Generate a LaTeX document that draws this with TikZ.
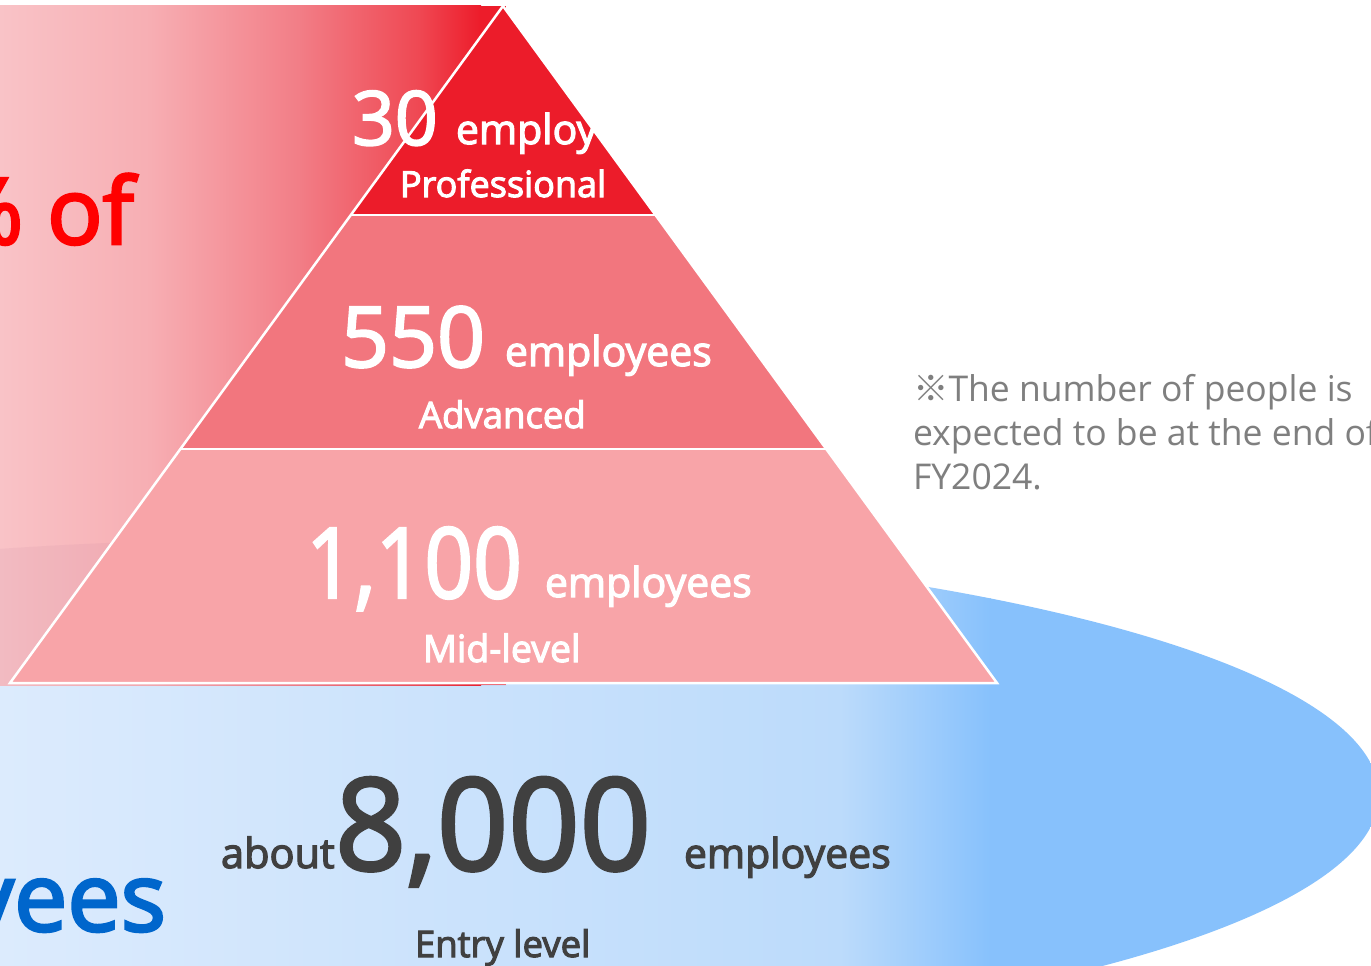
\documentclass[tikz,border=0pt]{standalone}
\usepackage{fontspec}
\setmainfont{Open Sans}
\newfontfamily\sbf[FakeBold=3]{Open Sans}
\newfontfamily\numf[FakeBold=2.5]{Open Sans}
\newfontfamily\cjk{Noto Sans CJK JP}
\definecolor{tierA}{HTML}{EC1C2A}
\definecolor{tierB}{HTML}{F2767E}
\definecolor{tierC}{HTML}{F8A4A8}
\definecolor{rA}{HTML}{F9C3C7}
\definecolor{rB}{HTML}{F7AEB3}
\definecolor{rC}{HTML}{F27D86}
\definecolor{rD}{HTML}{EF4752}
\definecolor{rE}{HTML}{ED1C2A}
\definecolor{bA}{HTML}{DCEBFD}
\definecolor{bB}{HTML}{BCDBFB}
\definecolor{bC}{HTML}{87C1FC}
\definecolor{redtxt}{HTML}{FF0000}
\definecolor{bluetxt}{HTML}{0066CC}
\definecolor{darktxt}{HTML}{404040}
\definecolor{notetxt}{HTML}{7F7F7F}
\definecolor{veil}{RGB}{160,100,140}
\begin{document}
\begin{tikzpicture}[x=1pt,y=-1pt,
  txt/.style={inner sep=0pt, outer sep=0pt, anchor=base west},
  wtxt/.style={txt, text=white},
  dtxt/.style={txt, text=darktxt},
  sep/.style={draw=white, line width=2.5pt, line join=miter}]
\useasboundingbox (0,0) rectangle (1371,966);
\clip (0,0) rectangle (1371,966);
\fill[white] (0,0) rectangle (1371,966);
% blue ellipse
\begin{scope}
  \clip (298,795) ellipse [x radius=1081, y radius=256];
  \fill[bA] (-800,500) rectangle (1,1100);
  \shade[left color=bA, right color=bB] (0,500) rectangle (841,1100);
  \shade[left color=bB, right color=bC] (840,500) rectangle (991,1100);
  \fill[bC] (990,500) rectangle (1400,1100);
\end{scope}
% red gradient panel
\shade[left color=rA, right color=rB] (0,6) rectangle (151,685);
\shade[left color=rB, right color=rC] (150,6) rectangle (301,685);
\shade[left color=rC, right color=rD] (300,6) rectangle (421,685);
\shade[left color=rD, right color=rE] (420,6) rectangle (481,685);
\fill[rE] (480,6) rectangle (506,685);
\begin{scope}
  \clip (0,6) rectangle (506,685);
  \fill[veil, opacity=0.08] (298,795) ellipse [x radius=1081, y radius=256];
\end{scope}
% pyramid
\coordinate (apex) at (503,6);
\coordinate (l1) at (352,215);
\coordinate (r1) at (655,215);
\coordinate (l2) at (181,449);
\coordinate (r2) at (826,449);
\coordinate (l3) at (10,683);
\coordinate (r3) at (997,683);
\fill[tierA] (apex) -- (l1) -- (r1) -- cycle;
\fill[tierB] (l1) -- (r1) -- (r2) -- (l2) -- cycle;
\fill[tierC] (l2) -- (r2) -- (r3) -- (l3) -- cycle;
% texts in the pyramid
\node[wtxt] (n30) at (352,145) {\numf\fontsize{75}{75}\selectfont 30};
\node[wtxt] (e30) at (456,144) {\sbf\fontsize{41}{41}\selectfont employees};
\node[wtxt] (prof) at (400,197) {\sbf\fontsize{36}{36}\selectfont Professional};
\node[wtxt] (n550) at (341,367) {\numf\fontsize{84}{84}\selectfont 550};
\node[wtxt] (e550) at (505,366) {\sbf\fontsize{41}{41}\selectfont employees};
\node[wtxt] (adv) at (419,428) {\sbf\fontsize{36.5}{36.5}\selectfont Advanced};
\node[wtxt] (n1100) at (306,598) {\scalebox{0.87}[1]{\numf\fontsize{98}{98}\selectfont 1,100}};
\node[wtxt] (e1100) at (545,597) {\sbf\fontsize{41}{41}\selectfont employees};
\node[wtxt] (mid) at (423,662) {\sbf\fontsize{37.5}{37.5}\selectfont Mid-level};
\draw[sep] (apex) -- (l3) -- (r3) -- cycle;
\draw[sep] (l1) -- (r1);
\draw[sep] (l2) -- (r2);
% entry level
\node[dtxt] (about) at (221,868) {\sbf\fontsize{41.5}{41.5}\selectfont about};
\node[dtxt] (n8000) at (335,870) {\scalebox{0.975}[1]{\numf\fontsize{128}{128}\selectfont 8,000}};
\node[dtxt] (e8000) at (684,868) {\sbf\fontsize{41}{41}\selectfont employees};
\node[dtxt] (entry) at (415,957) {\sbf\fontsize{36.5}{36.5}\selectfont Entry level};
% big side texts
\node[txt, anchor=base east, text=redtxt] (pct) at (134,244) {\sbf\fontsize{92}{92}\selectfont \%\ of};
\node[txt, anchor=base east, text=bluetxt] (yees) at (166,931) {\sbf\fontsize{95}{95}\selectfont employees};
% note
\node[txt, text=notetxt] (note1) at (913,401) {\fontsize{35.5}{35.5}\selectfont{\cjk ※}The number of people is};
\node[txt, text=notetxt] (note2) at (913,445) {\fontsize{35.5}{35.5}\selectfont expected to be at the end of};
\node[txt, text=notetxt] (note3) at (913,489) {\fontsize{35.5}{35.5}\selectfont FY2024.};
\end{tikzpicture}
\end{document}
